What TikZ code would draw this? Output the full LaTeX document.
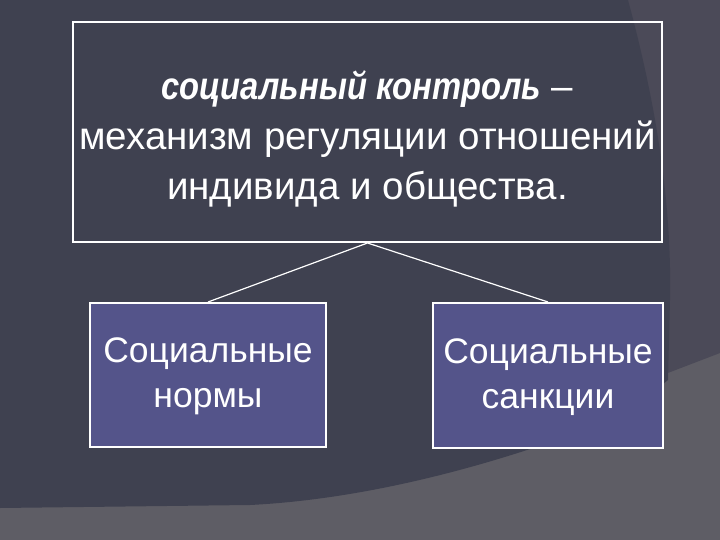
\documentclass[tikz,border=0pt]{standalone}
\usepackage{fontspec}
\setmainfont{Liberation Sans}
\newfontfamily\narrowfont[FakeStretch=0.85]{Liberation Sans}
\definecolor{bgdark}{RGB}{63,65,80}
\definecolor{bgmid}{RGB}{75,74,88}
\definecolor{bglight}{RGB}{94,93,101}
\definecolor{boxfill}{RGB}{84,84,138}
\tikzset{
  frame/.style={draw=white,line width=2pt,inner sep=0pt},
  txt/.style={text=white,align=center,inner sep=0pt}
}
\begin{document}
\begin{tikzpicture}[x=1pt,y=-1pt]

      \useasboundingbox (0,0) rectangle (720,540);
      \fill[bglight] (0,0) rectangle (720,540);
      \fill[bgmid] (600,0) -- (720,0) -- (720,353) -- (660,376) -- (600,376) -- cycle;
      \fill[bgdark] (0,0) -- (628,0) .. controls (655,100) and (672,200) .. (670,300)
        -- (668,380) .. controls (620,420) and (560,440) .. (527,450)
        .. controls (450,475) and (350,500) .. (250,505) -- (0,508) -- cycle;

      \begin{scope}[every node/.style={frame}]
        \node (def)  at (367.5,132) [minimum width=589pt,minimum height=220pt] {};
        \node (norm) at (208,375)   [fill=boxfill,minimum width=236pt,minimum height=144pt] {};
        \node (sanc) at (548,375.5) [fill=boxfill,minimum width=230pt,minimum height=145pt] {};
      \end{scope}

      \begin{scope}[every node/.style={txt}]
        \node (defText) at (367.5,139) [font=\fontsize{38.5}{50}\selectfont]
          {{\narrowfont\textbf{\textit{социальный контроль}}} –\\механизм регуляции отношений\\индивида и общества.};
        \node (normText) at (208,376.5) [font=\fontsize{35.5}{45}\selectfont] {Социальные\\нормы};
        \node (sancText) at (548,377)   [font=\fontsize{35.5}{45}\selectfont] {Социальные\\санкции};
      \end{scope}

      \begin{scope}[every edge/.style={draw=white,line width=1.2pt}]
        \path (def.south) edge (norm.north);
        \path (def.south) edge (sanc.north);
      \end{scope}

    \end{tikzpicture}
\end{document}
